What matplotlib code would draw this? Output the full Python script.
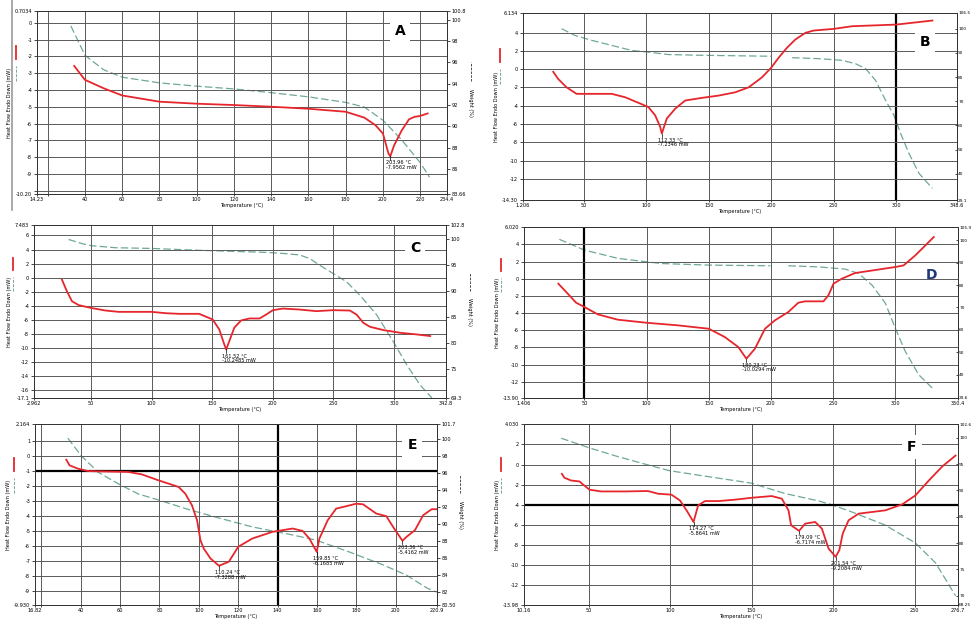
import numpy as np
import matplotlib
matplotlib.use('Agg')
import matplotlib.pyplot as plt
from matplotlib.lines import Line2D

# ---------------- panel A ----------------
a_t_dsc = [34.2, 40, 50, 60, 80, 100, 120, 140, 160, 180, 190, 196, 200, 203, 203.96, 206, 210, 214, 217, 220, 224]
a_dsc = [-2.57, -3.4, -3.9, -4.33, -4.7, -4.82, -4.9, -5.0, -5.12, -5.3, -5.65, -6.1, -6.6, -7.8, -7.95, -7.3, -6.43, -5.75, -5.6, -5.55, -5.4]
a_t_tga = [32.4, 40, 50, 60, 80, 100, 120, 140, 160, 180, 190, 200, 210, 220, 225]
a_tga = [99.4, 96.65, 95.3, 94.6, 94.07, 93.76, 93.5, 93.15, 92.76, 92.24, 91.8, 90.57, 88.74, 86.6, 85.24]
a_xticks = [14.23, 20, 40, 60, 80, 100, 120, 140, 160, 180, 200, 220, 234.4]
a_xlabels = ['14.23', '', '40', '60', '80', '100', '120', '140', '160', '180', '200', '220', '234.4']
a_yticks = [-10.2, -10, -9, -8, -7, -6, -5, -4, -3, -2, -1, 0, 0.7034]
a_ylabels = ['-10.20', '', '-9', '-8', '-7', '-6', '-5', '-4', '-3', '-2', '-1', '0', '0.7034']
a_y2ticks = [83.66, 86, 88, 90, 92, 94, 96, 98, 100, 100.8]
a_y2labels = ['83.66', '86', '88', '90', '92', '94', '96', '98', '100', '100.8']
a_peak_t = [203.96]
a_peak_mw = ['-7.9562']

# ---------------- panel B ----------------
b_t_dsc = [25.4, 29.4, 36.1, 44.1, 50.8, 72.2, 82.9, 93.6, 101.6, 107, 111, 112.33, 116.3, 123, 131, 144.4,
           157.8, 171.1, 181.8, 192.5, 200, 205.9, 212.6, 219.3, 227.3, 234, 250, 264.7, 300, 328.9]
b_dsc = [-0.29, -1.08, -1.99, -2.7, -2.7, -2.7, -3.07, -3.68, -4.15, -5.05, -6.3, -7.04, -5.4, -4.33, -3.43, -3.14,
         -2.89, -2.53, -1.99, -0.9, 0.18, 1.26, 2.35, 3.25, 3.97, 4.22, 4.4, 4.69, 4.87, 5.31]
b_t_tga = [32.1, 42.8, 56.1, 72.2, 88.2, 100, 117.6, 144.4, 200, 208, 216.6, 238, 256.7, 267.4, 275.4, 283.4,
           291.4, 298.1, 303.5, 310.2, 318.2, 328.9]
b_tga = [100, 97.2, 95.2, 93.1, 91.0, 90.4, 89.3, 89.0, 88.6, np.nan, 88.0, 87.6, 86.9, 85.5, 83.5, 78.6,
         70.4, 64.2, 56.6, 48.3, 40.1, 33.9]
b_xticks = [1.206, 50, 100, 150, 200, 250, 300, 348.6]
b_xlabels = ['1.206', '50', '100', '150', '200', '250', '300', '348.6']
b_yticks = [-14.3, -12, -10, -8, -6, -4, -2, 0, 2, 4, 6.134]
b_ylabels = ['-14.30', '-12', '-10', '-8', '-6', '-4', '-2', '0', '2', '4', '6.134']
b_y2ticks = [29.1, 40, 50, 60, 70, 80, 90, 100, 106.5]
b_y2labels = ['29.1', '40', '50', '60', '70', '80', '90', '100', '106.5']
b_peak_t = [112.33]
b_peak_mw = ['-7.2346']

# ---------------- panel C ----------------
c_t_dsc = [26, 30.1, 34.3, 39.8, 50, 61.9, 72.9, 100, 111.6, 122.7, 139.2, 150.3, 155.8, 159.9, 161.52, 164.1,
           168.2, 173.8, 180.7, 189, 194.5, 200, 208.3, 222.1, 235.9, 249.7, 263.5, 269, 274.6, 280.1, 291.2,
           305, 318.8, 329.8]
c_dsc = [-0.28, -1.93, -3.35, -3.9, -4.3, -4.67, -4.86, -4.86, -5.05, -5.14, -5.14, -5.94, -7.36, -9.48, -10.2, -9.0,
         -7.1, -6.08, -5.8, -5.8, -5.24, -4.62, -4.39, -4.53, -4.76, -4.62, -4.67, -5.24, -6.42, -6.98, -7.45,
         -7.83, -8.07, -8.3]
c_t_tga = [31.5, 42.5, 50, 70.2, 100, 139.2, 166.9, 194.5, 208.3, 222.1, 230.4, 238.7, 249.7, 260.8, 271.8,
           285.6, 299.4, 310.5, 321.5, 331.2]
c_tga = [100, 99.2, 98.8, 98.4, 98.26, 97.9, 97.7, 97.5, 97.3, 97.0, 96.3, 95.0, 93.4, 91.8, 89.2,
         85.4, 80.2, 75.7, 71.8, 69.3]
c_xticks = [2.962, 50, 100, 150, 200, 250, 300, 342.8]
c_xlabels = ['2.962', '50', '100', '150', '200', '250', '300', '342.8']
c_yticks = [-17.1, -16, -14, -12, -10, -8, -6, -4, -2, 0, 2, 4, 6, 7.483]
c_ylabels = ['-17.1', '-16', '-14', '-12', '-10', '-8', '-6', '-4', '-2', '0', '2', '4', '6', '7.483']
c_y2ticks = [69.3, 75, 80, 85, 90, 95, 100, 102.8]
c_y2labels = ['69.3', '75', '80', '85', '90', '95', '100', '102.8']
c_peak_t = [161.52]
c_peak_mw = ['-10.2485']

# ---------------- panel D ----------------
d_t_dsc = [29, 36.6, 43.3, 50, 60.8, 76.9, 99.7, 125.3, 150, 162.9, 173.7, 180.23, 187.1, 195.2, 203.2, 214,
           222, 227.4, 242.2, 246.2, 250.3, 257, 267.7, 278.5, 300, 306.7, 316.1, 324.2, 330.9]
d_dsc = [-0.58, -1.75, -2.8, -3.3, -4.16, -4.78, -5.13, -5.44, -5.83, -6.8, -7.96, -9.32, -8.16, -5.83, -4.85, -3.88,
         -2.8, -2.64, -2.64, -1.94, -0.58, 0, 0.66, 0.89, 1.36, 1.55, 2.72, 3.88, 4.85]
d_t_tga = [29.8, 50, 76.9, 99.7, 111.8, 150, 199.5, 206, 214, 238.2, 259.7, 270.4, 281.2, 292, 300, 308,
           318.8, 329.6]
d_tga = [100.4, 95.6, 91.9, 90.4, 89.6, 88.9, 88.6, np.nan, 88.6, 88.1, 87.1, 85.2, 80, 71.9, 60.7, 50.4,
         40, 34.1]
d_xticks = [1.406, 50, 100, 150, 200, 250, 300, 350.4]
d_xlabels = ['1.406', '50', '100', '150', '200', '250', '300', '350.4']
d_yticks = [-13.9, -12, -10, -8, -6, -4, -2, 0, 2, 4, 6.02]
d_ylabels = ['-13.90', '-12', '-10', '-8', '-6', '-4', '-2', '0', '2', '4', '6.020']
d_y2ticks = [29.6, 40, 50, 60, 70, 80, 90, 100, 105.9]
d_y2labels = ['29.6', '40', '50', '60', '70', '80', '90', '100', '105.9']
d_peak_t = [180.23]
d_peak_mw = ['-10.0294']

# ---------------- panel E ----------------
e_t_dsc = [32.7, 34.4, 38.6, 43.7, 48.9, 64.2, 71, 79.5, 89.7, 93.1, 96.5, 99.1, 100.8, 102.5, 105.9, 110.24,
           115.2, 120, 127.1, 137.4, 147.6, 152.7, 156.1, 159.85, 161.2, 165.4, 169.7, 174.8, 179.9, 183.3,
           190.1, 195.2, 198.6, 203.36, 205.4, 209.7, 213.9, 218.2, 220.8]
e_dsc = [-0.22, -0.6, -0.82, -0.98, -1.0, -1.04, -1.2, -1.6, -2.04, -2.49, -3.27, -4.27, -5.6, -6.16, -6.82, -7.31,
         -7.04, -6.04, -5.49, -5.04, -4.82, -4.98, -5.49, -6.38, -5.49, -4.27, -3.49, -3.33, -3.16, -3.2,
         -3.82, -4.0, -4.71, -5.64, -5.38, -4.93, -3.93, -3.53, -3.53]
e_t_tga = [33.5, 40.3, 48.9, 59.1, 69.3, 80.3, 93.1, 108.4, 127.1, 147.6, 159.5, 176.5, 193.5, 205.4, 215.7, 220.8]
e_tga = [100.04, 97.98, 96.05, 94.7, 93.5, 92.75, 91.8, 90.8, 89.65, 88.7, 88.1, 86.7, 85.2, 84.0, 82.5, 82.0]
e_xticks = [16.82, 20, 40, 60, 80, 100, 120, 140, 160, 180, 200, 220.9]
e_xlabels = ['16.82', '', '40', '60', '80', '100', '120', '140', '160', '180', '200', '220.9']
e_yticks = [-9.93, -9, -8, -7, -6, -5, -4, -3, -2, -1, 0, 1, 2.164]
e_ylabels = ['-9.930', '-9', '-8', '-7', '-6', '-5', '-4', '-3', '-2', '-1', '0', '1', '2.164']
e_y2ticks = [80.5, 82, 84, 86, 88, 90, 92, 94, 96, 98, 100, 101.7]
e_y2labels = ['80.50', '82', '84', '86', '88', '90', '92', '94', '96', '98', '100', '101.7']
e_peak_t = [110.24, 159.85, 203.36]
e_peak_mw = ['-7.3288', '-6.1685', '-5.4162']

# ---------------- panel F ----------------
f_t_dsc = [33.4, 35, 39.1, 44.3, 45.9, 50.4, 57.6, 72, 86.3, 92.5, 100.7, 105.9, 110, 114.27, 117.1, 121.3,
           129.5, 139.7, 150, 162.3, 168.5, 172.6, 174.2, 179.09, 182.9, 189, 193.1, 197.2, 201.54, 203.8,
           205.9, 209.5, 215.7, 232.1, 242.4, 250.6, 258.8, 267, 275.2]
f_dsc = [-0.93, -1.32, -1.59, -1.69, -1.92, -2.51, -2.68, -2.68, -2.64, -2.91, -3.0, -3.57, -4.56, -5.72, -4.07, -3.64,
         -3.64, -3.5, -3.31, -3.14, -3.4, -4.56, -6.05, -6.6, -5.88, -5.72, -6.38, -8.36, -9.19, -8.53,
         -6.88, -5.55, -4.89, -4.56, -3.97, -3.07, -1.59, -0.2, 0.89]
f_t_tga = [33, 50, 67.9, 84.3, 99.3, 119.2, 149.4, 170.5, 191.1, 199.9, 211.6, 232.1, 250.6, 262.9, 275.2]
f_tga = [99.9, 98.1, 96.4, 95, 93.75, 92.8, 91.4, 89.4, 88, 87.2, 85.9, 83.4, 80, 76.25, 70]
f_xticks = [10.16, 50, 100, 150, 200, 250, 276.7]
f_xlabels = ['10.16', '50', '100', '150', '200', '250', '276.7']
f_yticks = [-13.98, -12, -10, -8, -6, -4, -2, 0, 2, 4.03]
f_ylabels = ['-13.98', '-12', '-10', '-8', '-6', '-4', '-2', '0', '2', '4.030']
f_y2ticks = [68.25, 70, 75, 80, 85, 90, 95, 100, 102.6]
f_y2labels = ['68.25', '70', '75', '80', '85', '90', '95', '100', '102.6']
f_peak_t = [114.27, 179.09, 201.54]
f_peak_mw = ['-5.8641', '-6.7174', '-9.2084']

RED = '#e6262d'
GREEN = '#6fa898'
TS = 3.6


def draw_panel(rect, letter, t_dsc, dsc, t_tga, tga, xticks, xlabels, yticks, ylabels,
               y2ticks, y2labels, peak_t, peak_mw, letter_xy, thick_x=(), thick_y=(),
               letter_color='black', letter_box=True, at_edge=False):
    ax = fig.add_axes(rect)
    ax2 = ax.twinx()
    ax.set_zorder(ax2.get_zorder() + 1)
    ax.patch.set_visible(False)

    ax.set_xlim(xticks[0], xticks[-1])
    ax.set_ylim(yticks[0], yticks[-1])
    ax2.set_ylim(y2ticks[0], y2ticks[-1])
    ax.set_xticks(xticks)
    ax.set_xticklabels(xlabels, fontsize=TS)
    ax.set_yticks(yticks)
    ax.set_yticklabels(ylabels, fontsize=TS)
    ax2.set_yticks(y2ticks)
    ax.tick_params(axis='y', length=2, width=0.5, pad=1.5)
    ax.tick_params(axis='x', length=1.5, width=0.5, pad=1)
    if at_edge:
        # right panels sit against the page edge: keep the weight labels tight
        ax2.set_yticklabels(y2labels, fontsize=3.1)
        ax2.tick_params(direction='in', length=1.5, width=0.5, pad=0.8)
    else:
        ax2.set_yticklabels(y2labels, fontsize=TS)
        ax2.tick_params(length=2, width=0.5, pad=1.5)

    ax.grid(True, color='#5a5a5a', linewidth=0.7)
    for tk, v in zip(ax.xaxis.get_major_ticks(), xticks):
        if v in thick_x:
            tk.gridline.set_color('black')
            tk.gridline.set_linewidth(1.6)
    for tk, v in zip(ax.yaxis.get_major_ticks(), yticks):
        if v in thick_y:
            tk.gridline.set_color('black')
            tk.gridline.set_linewidth(1.6)

    for s in list(ax.spines.values()) + list(ax2.spines.values()):
        s.set_linewidth(0.7)
        s.set_color('#333333')

    ax2.plot(t_tga, tga, color=GREEN, linestyle=(0, (6, 2.5)), linewidth=0.9)
    ax.plot(t_dsc, dsc, color=RED, linewidth=1.3)

    t_arr = np.array(t_dsc)
    d_arr = np.array(dsc)
    for pt, mw in zip(peak_t, peak_mw):
        near = np.abs(t_arr - pt) < 4
        py = d_arr[near].min()
        ax.plot([pt, pt], [py, py - 0.02 * (yticks[-1] - yticks[0])], color='black', linewidth=0.5)
        ax.annotate('%.2f °C\n%s mW' % (pt, mw), xy=(pt, py), xytext=(-3, -3),
                    textcoords='offset points', fontsize=TS, ha='left', va='top',
                    linespacing=0.9)

    ax.set_xlabel('Temperature (°C)', fontsize=TS, labelpad=0.5)
    ax.set_ylabel('Heat Flow Endo Down (mW)', fontsize=TS, labelpad=2)
    if not at_edge:
        ax2.set_ylabel('Weight (%)', fontsize=TS, rotation=270, labelpad=5)
        ax2.add_line(Line2D([1.058, 1.058], [0.62, 0.72], transform=ax2.transAxes,
                            color='#333333', linewidth=0.6, linestyle=(0, (3, 1.5)), clip_on=False))

    # legend stubs next to the heat-flow label
    ax.add_line(Line2D([-0.052, -0.052], [0.74, 0.81], transform=ax.transAxes,
                       color=RED, linewidth=1.3, clip_on=False))
    ax.add_line(Line2D([-0.052, -0.052], [0.62, 0.70], transform=ax.transAxes,
                       color=GREEN, linewidth=0.7, linestyle=(0, (3, 1.5)), clip_on=False))

    bbox = dict(facecolor='white', edgecolor='none', pad=3.5) if letter_box else None
    ax.text(letter_xy[0], letter_xy[1], letter, transform=ax.transAxes, fontsize=10,
            fontweight='bold', color=letter_color, ha='center', va='center', bbox=bbox, zorder=10)
    return ax


fig = plt.figure(figsize=(9.71, 6.21), dpi=100)
fig.patch.set_facecolor('white')

W, H = 971.0, 621.0


def rect(l, r, t, b):
    return [l / W, 1 - b / H, (r - l) / W, (b - t) / H]


draw_panel(rect(37, 447, 11, 194), 'A', a_t_dsc, a_dsc, a_t_tga, a_tga, a_xticks, a_xlabels,
           a_yticks, a_ylabels, a_y2ticks, a_y2labels, a_peak_t, a_peak_mw, (0.885, 0.89))
draw_panel(rect(523, 957, 13, 200), 'B', b_t_dsc, b_dsc, b_t_tga, b_tga, b_xticks, b_xlabels,
           b_yticks, b_ylabels, b_y2ticks, b_y2labels, b_peak_t, b_peak_mw, (0.926, 0.845),
           thick_x=(300,), at_edge=True)
draw_panel(rect(34, 446, 225, 398), 'C', c_t_dsc, c_dsc, c_t_tga, c_tga, c_xticks, c_xlabels,
           c_yticks, c_ylabels, c_y2ticks, c_y2labels, c_peak_t, c_peak_mw, (0.925, 0.867))
draw_panel(rect(524, 958, 227, 398), 'D', d_t_dsc, d_dsc, d_t_tga, d_tga, d_xticks, d_xlabels,
           d_yticks, d_ylabels, d_y2ticks, d_y2labels, d_peak_t, d_peak_mw, (0.94, 0.72),
           thick_x=(50,), letter_color='#1f3a7a', letter_box=False, at_edge=True)
draw_panel(rect(35, 437, 424, 605), 'E', e_t_dsc, e_dsc, e_t_tga, e_tga, e_xticks, e_xlabels,
           e_yticks, e_ylabels, e_y2ticks, e_y2labels, e_peak_t, e_peak_mw, (0.938, 0.885),
           thick_x=(140,), thick_y=(-1,))
draw_panel(rect(524, 958, 424, 605), 'F', f_t_dsc, f_dsc, f_t_tga, f_tga, f_xticks, f_xlabels,
           f_yticks, f_ylabels, f_y2ticks, f_y2labels, f_peak_t, f_peak_mw, (0.894, 0.873),
           thick_y=(-4,), at_edge=True)

# scanned page edge on the left of the first panel
fig.add_artist(Line2D([12 / W, 12 / W], [1 - 210 / H, 1.0], color='#9a9a9a', linewidth=1.2))

fig.savefig('out.png', dpi=100, facecolor='white')
